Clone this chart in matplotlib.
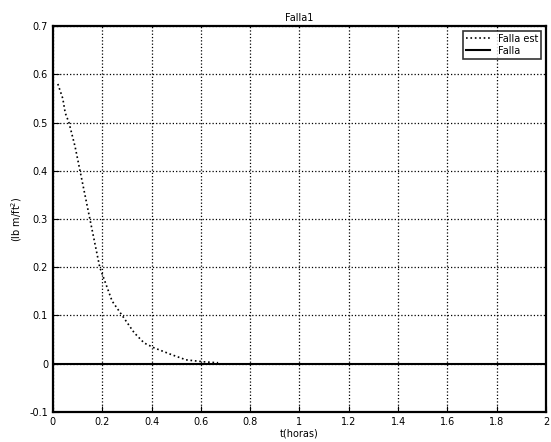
import numpy as np
import matplotlib
matplotlib.use('Agg')
import matplotlib.pyplot as plt

# Falla est (dotted curve)
t_est = [0.02, 0.04, 0.05, 0.065, 0.09, 0.11, 0.15, 0.19, 0.24, 0.285, 0.33, 0.37, 0.41, 0.48, 0.54, 0.61, 0.67]
y_est = [0.58, 0.55, 0.52, 0.50, 0.45, 0.40, 0.30, 0.20, 0.13, 0.097, 0.064, 0.043, 0.033, 0.019, 0.008, 0.004, 0.002]

# Falla (solid line)
t_falla = [0, 2]
y_falla = [0, 0]

xticks = [0, 0.2, 0.4, 0.6, 0.8, 1, 1.2, 1.4, 1.6, 1.8, 2]
xticklabels = ['0', '0.2', '0.4', '0.6', '0.8', '1', '1.2', '1.4', '1.6', '1.8', '2']
yticks = [-0.1, 0, 0.1, 0.2, 0.3, 0.4, 0.5, 0.6, 0.7]
yticklabels = ['-0.1', '0', '0.1', '0.2', '0.3', '0.4', '0.5', '0.6', '0.7']

fig = plt.figure(figsize=(5.51, 4.42), dpi=100)
ax = fig.add_axes([0.096, 0.068, 0.895, 0.873])

ax.plot(t_est, y_est, color='black', linestyle=':', linewidth=1.2, label='Falla est')
ax.plot(t_falla, y_falla, color='black', linestyle='-', linewidth=1.5, label='Falla')

ax.set_xlim(0, 2)
ax.set_ylim(-0.1, 0.7)
ax.set_xticks(xticks)
ax.set_xticklabels(xticklabels)
ax.set_yticks(yticks)
ax.set_yticklabels(yticklabels)
ax.tick_params(labelsize=7, direction='in', length=4)
ax.grid(True, color='black', linestyle=':', linewidth=0.9)
for s in ax.spines.values():
    s.set_linewidth(1.6)

ax.set_title('Falla1', fontsize=7, pad=4)
ax.set_xlabel('t(horas)', fontsize=7, labelpad=1)
ax.set_ylabel('(lb m/ft$^2$)', fontsize=7, labelpad=4)

leg = ax.legend(loc='upper right', fontsize=7, frameon=True, fancybox=False,
                borderpad=0.3, handlelength=2.5, labelspacing=0.2)
leg.get_frame().set_edgecolor('black')
leg.get_frame().set_linewidth(1.2)

fig.savefig('out.png', dpi=100)
